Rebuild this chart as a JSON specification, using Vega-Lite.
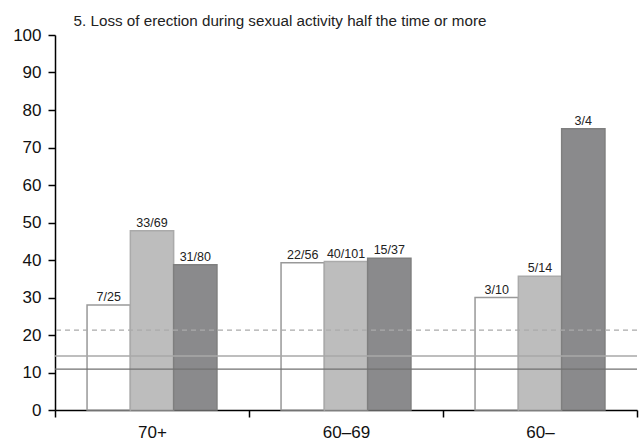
{
  "$schema": "https://vega.github.io/schema/vega-lite/v6.json",
  "width": 582,
  "height": 375,
  "autosize": {"type": "none"},
  "padding": {"left": 55, "top": 35, "right": 3, "bottom": 32},
  "background": "white",
  "title": {
    "text": "5. Loss of erection during sexual activity half the time or more",
    "fontSize": 15.2,
    "font": "Liberation Sans",
    "fontWeight": "normal",
    "color": "#222222",
    "anchor": "middle",
    "dx": -66,
    "dy": 7
  },
  "config": {
    "view": {"stroke": null},
    "font": "Liberation Sans",
    "axis": {
      "domainColor": "#000000",
      "domainWidth": 1.5,
      "tickColor": "#000000",
      "tickWidth": 1.5,
      "tickSize": 7,
      "labelColor": "#111111",
      "labelFont": "Liberation Sans",
      "labelFontSize": 17,
      "grid": false,
      "title": null
    },
    "axisY": {
      "values": [0, 10, 20, 30, 40, 50, 60, 70, 80, 90, 100],
      "labelOverlap": false,
      "labelPadding": 7
    },
    "axisX": {
      "labelPadding": 7,
      "labelAngle": 0,
      "tickBand": "extent"
    }
  },
  "layer": [
    {
      "data": {
        "values": [
          {"group": "70+", "series": "1", "value": 28.0, "label": "7/25"},
          {"group": "70+", "series": "2", "value": 47.8, "label": "33/69"},
          {"group": "70+", "series": "3", "value": 38.75, "label": "31/80"},
          {"group": "60–69", "series": "1", "value": 39.3, "label": "22/56"},
          {"group": "60–69", "series": "2", "value": 39.6, "label": "40/101"},
          {"group": "60–69", "series": "3", "value": 40.5, "label": "15/37"},
          {"group": "60–", "series": "1", "value": 30.0, "label": "3/10"},
          {"group": "60–", "series": "2", "value": 35.7, "label": "5/14"},
          {"group": "60–", "series": "3", "value": 75.0, "label": "3/4"}
        ]
      },
      "encoding": {
        "x": {
          "field": "group",
          "type": "nominal",
          "sort": ["70+", "60–69", "60–"],
          "scale": {"paddingInner": 0, "paddingOuter": 0},
          "axis": {"title": null}
        },
        "xOffset": {
          "field": "series",
          "type": "nominal",
          "sort": ["1", "2", "3"],
          "scale": {"paddingInner": 0, "paddingOuter": 0.74}
        },
        "y": {
          "field": "value",
          "type": "quantitative",
          "scale": {"domain": [0, 100], "nice": false},
          "axis": {"title": null}
        }
      },
      "layer": [
        {
          "mark": {"type": "bar", "strokeWidth": 1.5},
          "encoding": {
            "fill": {
              "field": "series",
              "type": "nominal",
              "scale": {"domain": ["1", "2", "3"], "range": ["#ffffff", "#bdbdbd", "#8a8a8c"]},
              "legend": null
            },
            "stroke": {
              "field": "series",
              "type": "nominal",
              "scale": {"domain": ["1", "2", "3"], "range": ["#999999", "#aaaaaa", "#7f7f7f"]},
              "legend": null
            }
          }
        },
        {
          "mark": {"type": "text", "dy": -4, "baseline": "alphabetic", "fontSize": 12.5, "color": "#222222", "font": "Liberation Sans"},
          "encoding": {"text": {"field": "label", "type": "nominal"}}
        }
      ]
    },
    {
      "data": {"values": [{"value": 21.3}]},
      "mark": {"type": "rule", "color": "#aaaaaa", "strokeWidth": 1.3, "strokeDash": [5, 4]},
      "encoding": {"y": {"field": "value", "type": "quantitative", "title": null}}
    },
    {
      "data": {"values": [{"value": 14.4}]},
      "mark": {"type": "rule", "color": "#a8a8a8", "strokeWidth": 1.3},
      "encoding": {"y": {"field": "value", "type": "quantitative", "title": null}}
    },
    {
      "data": {"values": [{"value": 10.9}]},
      "mark": {"type": "rule", "color": "#707070", "strokeWidth": 1.3},
      "encoding": {"y": {"field": "value", "type": "quantitative", "title": null}}
    }
  ]
}
